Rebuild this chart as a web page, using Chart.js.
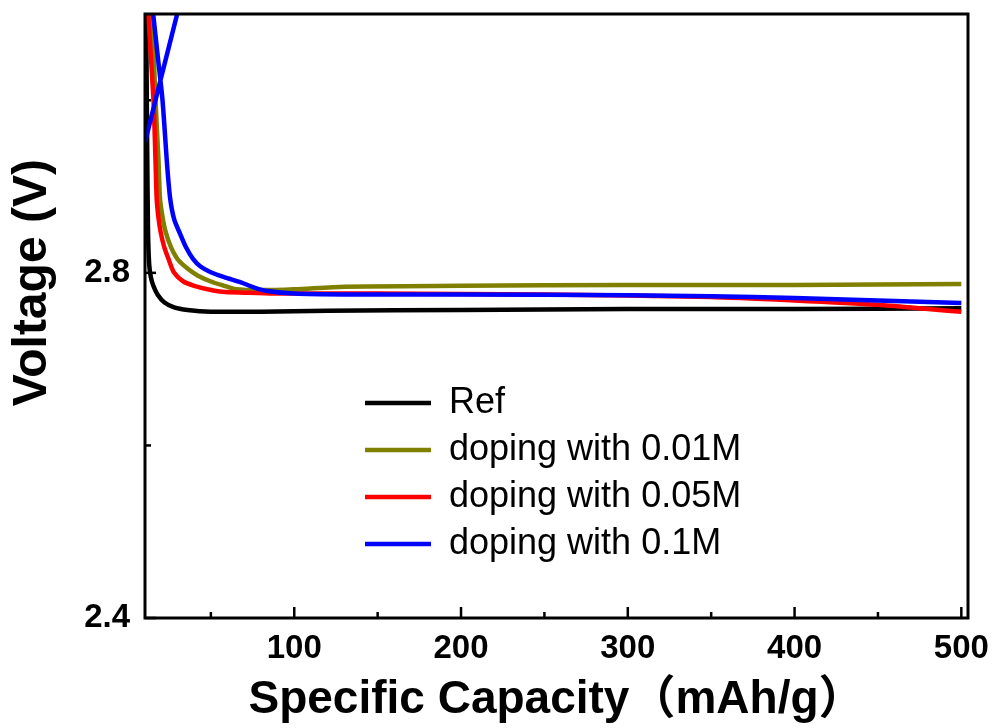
<!DOCTYPE html>
<html>
<head>
<meta charset="utf-8">
<script src="https://cdn.jsdelivr.net/npm/chart.js@4.4.1/dist/chart.umd.min.js"></script>
<style>
    body { margin: 0; background: #ffffff; }
    #wrap { width: 995px; height: 728px; }
</style>
</head>
<body>
<div id="wrap"><canvas id="graficoVoltagem"></canvas></div>
<script>
// Ticks dos eixos
const xMajor = [100, 200, 300, 400, 500];
const xMinor = [50, 150, 250, 350, 450];
const yMajor = [2.4, 2.8];
const yMinor = [2.6, 3.0];

// Séries
const nomes = ['Ref', 'doping with 0.01M', 'doping with 0.05M', 'doping with 0.1M'];
const cores = ['#000000', '#808000', '#ff0000', '#0000ff'];

const refCap  = [11.2, 11.8, 12.3, 13, 14, 15.5, 18, 22, 28, 36, 50, 80, 120, 200, 300, 400, 500];
const refVolt = [3.1, 2.95, 2.85, 2.81, 2.795, 2.785, 2.775, 2.766, 2.76, 2.757, 2.755, 2.755, 2.756, 2.757, 2.758, 2.758, 2.759];

const d01Cap  = [14.8, 16.8, 18.6, 19.5, 21, 22.8, 26, 30, 36, 42, 50, 58, 65, 80, 100, 130, 200, 300, 400, 500];
const d01Volt = [3.1, 3.0, 2.93, 2.886, 2.865, 2.848, 2.83, 2.816, 2.805, 2.797, 2.79, 2.785, 2.781, 2.78, 2.781, 2.784, 2.785, 2.786, 2.786, 2.787];

const d05Cap  = [12.4, 15.6, 16.8, 17.5, 18.5, 19.8, 22, 24.6, 28, 33.5, 40, 48, 57, 70, 88, 150, 250, 350, 400, 450, 480, 500];
const d05Volt = [3.1, 3.0, 2.93, 2.886, 2.865, 2.848, 2.83, 2.816, 2.8, 2.79, 2.785, 2.781, 2.778, 2.777, 2.776, 2.776, 2.775, 2.772, 2.768, 2.763, 2.758, 2.755];

// o ramo que sobe e o ramo que desce ficam separados por um null
const d1Cap  = [10.6, 20, 29.8, 29.9, 15.4, 18.2, 21, 23.8, 25.6, 28, 31.6, 35, 39.4, 44, 49.6, 58, 68, 76, 84, 100, 130, 200, 300, 350, 400, 450, 500];
const d1Volt = [2.952, 3.025, 3.1, null, 3.1, 3.05, 3.0, 2.924, 2.886, 2.862, 2.845, 2.83, 2.816, 2.807, 2.801, 2.795, 2.789, 2.783, 2.779, 2.776, 2.775, 2.775, 2.774, 2.773, 2.771, 2.768, 2.765];

const capacidades = [refCap, d01Cap, d05Cap, d1Cap];
const voltagens = [refVolt, d01Volt, d05Volt, d1Volt];

function pontos(cap, volt) {
    return cap.map((c, i) => ({ x: c, y: volt[i] }));
}

const fonte = '"Liberation Sans", Arial, "Noto Sans CJK SC", sans-serif';

// Caixa em volta do gráfico e ticks para dentro
const caixaTicks = {
    id: 'caixaTicks',
    afterDatasetsDraw(chart) {
        const { ctx, chartArea: a, scales: { x, y } } = chart;
        ctx.save();
        ctx.strokeStyle = '#000';
        ctx.lineWidth = 2.5;
        xMajor.concat(xMinor).forEach(v => {
            const px = x.getPixelForValue(v);
            const len = xMajor.includes(v) ? 11 : 6;
            ctx.beginPath();
            ctx.moveTo(px, a.bottom);
            ctx.lineTo(px, a.bottom - len);
            ctx.stroke();
        });
        yMajor.concat(yMinor).forEach(v => {
            const py = y.getPixelForValue(v);
            const len = yMajor.includes(v) ? 11 : 6;
            ctx.beginPath();
            ctx.moveTo(a.left, py);
            ctx.lineTo(a.left + len, py);
            ctx.stroke();
        });
        ctx.lineWidth = 3;
        ctx.strokeRect(a.left, a.top, a.right - a.left, a.bottom - a.top);
        ctx.restore();
    }
};

// Legenda dentro da área do gráfico
const posLegenda = {
    id: 'posLegenda',
    afterLayout(chart) {
        chart.legend.left = 354;
        chart.legend.top = 374;
    }
};

function semPadding(scale) {
    scale.paddingTop = 0;
    scale.paddingBottom = 0;
    scale.paddingLeft = 0;
    scale.paddingRight = 0;
}

const datasets = nomes.map((nome, i) => ({
    label: nome,
    data: pontos(capacidades[i], voltagens[i]),
    borderColor: cores[i],
    backgroundColor: cores[i],
    borderWidth: 4.5,
    pointRadius: 0,
    tension: 0.25,
    spanGaps: false,
    clip: 0,
    order: nomes.length - i
}));

const config = {
    type: 'line',
    data: { datasets: datasets },
    options: {
        responsive: true,
        maintainAspectRatio: false,
        animation: false,
        layout: { padding: { top: 14, right: 27, left: 0, bottom: 0 } },
        plugins: {
            tooltip: { enabled: false },
            legend: {
                position: 'chartArea',
                align: 'start',
                labels: {
                    usePointStyle: true,
                    pointStyle: 'line',
                    pointStyleWidth: 66,
                    padding: 11,
                    color: '#000',
                    font: { family: fonte, size: 36 },
                    sort: (a, b) => a.datasetIndex - b.datasetIndex
                }
            }
        },
        scales: {
            x: {
                type: 'linear',
                min: 10.5,
                max: 504,
                grid: { display: false, drawTicks: false },
                border: { display: false },
                afterBuildTicks: (scale) => { scale.ticks = xMajor.map(v => ({ value: v })); },
                afterFit: (scale) => { scale.height = 110; semPadding(scale); },
                ticks: {
                    color: '#000',
                    padding: 11,
                    maxRotation: 0,
                    font: { family: fonte, size: 33, weight: 'bold' }
                },
                title: {
                    display: true,
                    text: 'Specific Capacity（mAh/g）',
                    color: '#000',
                    padding: { top: 0, bottom: 5 },
                    font: { family: fonte, size: 46, weight: 'bold', lineHeight: 1 }
                }
            },
            y: {
                type: 'linear',
                min: 2.4,
                max: 3.1,
                grid: { display: false, drawTicks: false },
                border: { display: false },
                afterBuildTicks: (scale) => { scale.ticks = yMajor.map(v => ({ value: v })); },
                afterFit: (scale) => { scale.width = 145; semPadding(scale); },
                ticks: {
                    color: '#000',
                    padding: 15,
                    font: { family: fonte, size: 33, weight: 'bold' }
                },
                title: {
                    display: true,
                    text: '     Voltage (V)',
                    color: '#000',
                    padding: { top: 9, bottom: 0 },
                    font: { family: fonte, size: 48, weight: 'bold', lineHeight: 1 }
                }
            }
        }
    },
    plugins: [caixaTicks, posLegenda]
};

const ctx = document.getElementById('graficoVoltagem').getContext('2d');
const myChart = new Chart(ctx, config);
</script>
</body>
</html>
